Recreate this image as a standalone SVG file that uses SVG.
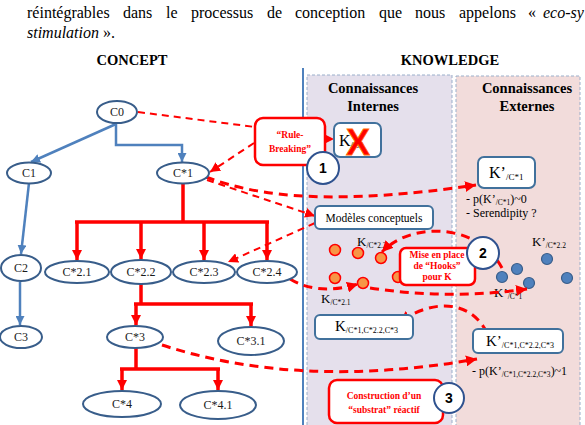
<svg xmlns="http://www.w3.org/2000/svg" width="585" height="425" viewBox="0 0 585 425" font-family="Liberation Serif, Tinos, DejaVu Serif, serif">
<style>
.t{font-family:'Liberation Serif','DejaVu Serif',serif;fill:#000}
.n{font-family:'Liberation Serif','DejaVu Serif',serif;font-size:12px;fill:#1a1a1a;text-anchor:middle}
.h{font-family:'Liberation Serif','DejaVu Serif',serif;font-size:14.5px;font-weight:bold;text-anchor:middle}
.r{font-family:'Liberation Serif','DejaVu Serif',serif;font-size:9.5px;font-weight:bold;fill:#FF0000;text-anchor:middle}
.num{font-family:'Liberation Sans','DejaVu Sans',sans-serif;font-size:14px;font-weight:bold;text-anchor:middle}
.el{fill:#fff;stroke:#385D8A;stroke-width:2}
.kb{fill:#fff;stroke:#41719C;stroke-width:2}
.rb{fill:#fff;stroke:#FF0000;stroke-width:2.5}
.circ{fill:#fff;stroke:#2F528F;stroke-width:2}
.blue{fill:none;stroke:#4F81BD;stroke-width:2.5}
.tree{fill:none;stroke:#FF0000;stroke-width:3.5}
.d1{fill:none;stroke:#FF0000;stroke-width:2;stroke-dasharray:7 5}
.d2{fill:none;stroke:#FF0000;stroke-width:3;stroke-dasharray:9 6}
.od{fill:#F79646;stroke:#FF0000;stroke-width:1.5}
.bd{fill:#4F81BD;stroke:#385D8A;stroke-width:1.2}
</style>
<defs>
<marker id="ab" viewBox="0 0 10 10" refX="10" refY="5" markerWidth="9" markerHeight="9" markerUnits="userSpaceOnUse" orient="auto"><path d="M0,0 L10,5 L0,10 z" fill="#4F81BD"/></marker>
<marker id="ar" viewBox="0 0 10 10" refX="10" refY="5" markerWidth="10" markerHeight="10" markerUnits="userSpaceOnUse" orient="auto"><path d="M0,0 L10,5 L0,10 z" fill="#FF0000"/></marker>
<marker id="ad" viewBox="0 0 10 10" refX="10" refY="5" markerWidth="11" markerHeight="11" markerUnits="userSpaceOnUse" orient="auto"><path d="M0,0 L10,5 L0,10 z" fill="#FF0000"/></marker>
</defs>
<rect width="585" height="425" fill="#fff"/>

<!-- paragraph -->
<g class="t" font-size="16">
<text x="27" y="18">réintégrables</text>
<text x="123" y="18">dans</text>
<text x="166" y="18">le</text>
<text x="191" y="18">processus</text>
<text x="267" y="18">de</text>
<text x="295" y="18">conception</text>
<text x="379" y="18">que</text>
<text x="415" y="18">nous</text>
<text x="459" y="18">appelons</text>
<text x="528" y="18">«</text>
<text x="543" y="18" font-style="italic">eco-sy</text>
<text x="27" y="38"><tspan font-style="italic">stimulation</tspan> ».</text>
</g>
<text class="h" x="132" y="65">CONCEPT</text>
<text class="h" x="450" y="65">KNOWLEDGE</text>

<!-- panels -->
<g id="panels">
<rect x="307" y="75" width="145" height="355" fill="#E5E0EC" stroke="#9AAFCB" stroke-width="1" stroke-dasharray="3 2"/>
<rect x="456" y="76" width="124" height="354" fill="#F2DCDB" stroke="#9AAFCB" stroke-width="1" stroke-dasharray="3 2"/>
<line x1="303" y1="68" x2="303" y2="425" stroke="#4F81BD" stroke-width="2"/>
<text class="h" x="373" y="93">Connaissances</text>
<text class="h" x="373" y="111">Internes</text>
<text class="h" x="527" y="93">Connaissances</text>
<text class="h" x="527" y="111">Externes</text>
</g>

<!-- dots -->
<g id="dots">
<circle class="od" cx="335" cy="250" r="5.5"/>
<circle class="od" cx="358" cy="253" r="5.5"/>
<circle class="od" cx="381" cy="258" r="5.5"/>
<circle class="od" cx="335" cy="278" r="5.5"/>
<circle class="od" cx="363" cy="283" r="5.5"/>
<circle class="od" cx="398" cy="277" r="5.5"/>
<circle class="bd" cx="502" cy="277" r="5.5"/>
<circle class="bd" cx="517" cy="269" r="5.5"/>
<circle class="bd" cx="529" cy="283" r="5.5"/>
<circle class="bd" cx="547" cy="259" r="5.5"/>
<circle class="bd" cx="567" cy="278" r="5.5"/>
<text class="t" x="357" y="246" font-size="13">K<tspan font-size="7.5" dy="2">/C*2.2</tspan></text>
<text class="t" x="321" y="303" font-size="13">K<tspan font-size="7.5" dy="2">/C*2.1</tspan></text>
<text class="t" x="532" y="246" font-size="13">K’<tspan font-size="7.5" dy="2">/C*2.2</tspan></text>
<text class="t" x="494" y="297" font-size="13">K’<tspan font-size="7.5" dy="2">/C*1</tspan></text>
</g>

<!-- connectors -->
<g id="connectors">
<path class="blue" d="M116,124 L31,162" marker-end="url(#ab)"/>
<path class="blue" d="M116,124 V145 H182 V162" marker-end="url(#ab)"/>
<path class="blue" d="M29,183 L21,254" marker-end="url(#ab)"/>
<path class="blue" d="M20,282 L20,325" marker-end="url(#ab)"/>

<path class="tree" d="M183,183 V222 M75,222 H269"/>
<path class="tree" d="M77,222 V260" marker-end="url(#ar)"/>
<path class="tree" d="M141,222 V259" marker-end="url(#ar)"/>
<path class="tree" d="M204,222 V260" marker-end="url(#ar)"/>
<path class="tree" d="M267,222 V260" marker-end="url(#ar)"/>
<path class="tree" d="M141,284 V304 M134,304 H253"/>
<path class="tree" d="M136,304 V325" marker-end="url(#ar)"/>
<path class="tree" d="M251,304 V326" marker-end="url(#ar)"/>
<path class="tree" d="M136,348 V369 M120,369 H220"/>
<path class="tree" d="M122,369 V390" marker-end="url(#ar)"/>
<path class="tree" d="M218,369 V390" marker-end="url(#ar)"/>

<path class="d1" d="M138,112 L255,127"/>
<path class="d1" d="M254,143 L210,172" marker-end="url(#ar)"/>
<path class="d1" d="M325,139 L334,139" marker-end="url(#ar)"/>
<path class="d2" d="M206,177 C260,198 340,205 476,185" marker-end="url(#ad)"/>
<path class="d1" d="M207,180 L315,216" marker-end="url(#ar)"/>
<path class="d1" d="M315,223 L228,262" marker-end="url(#ar)"/>
<path class="d2" d="M290,279 Q318,296 358,284" marker-end="url(#ad)"/>
<path class="d2" d="M370,288 Q450,300 527,289" marker-end="url(#ad)"/>
<path class="d2" d="M502,268 C478,222 410,222 382,252" marker-end="url(#ad)"/>
<path class="d2" d="M487,333 C470,298 430,300 400,322" marker-end="url(#ad)"/>
<path class="d2" d="M162,345 Q300,390 477,359" marker-end="url(#ad)"/>
</g>

<!-- concept nodes -->
<g id="C0"><ellipse class="el" cx="117" cy="112" rx="20" ry="11"/><text class="n" x="117" y="116">C0</text></g>
<g id="C1"><ellipse class="el" cx="29" cy="173" rx="22" ry="10.5"/><text class="n" x="29" y="177">C1</text></g>
<g id="Cs1"><ellipse class="el" cx="183" cy="173" rx="26" ry="10.5"/><text class="n" x="183" y="177">C*1</text></g>
<g id="C2"><ellipse class="el" cx="21" cy="268" rx="20" ry="13"/><text class="n" x="21" y="272">C2</text></g>
<g id="Cs21"><ellipse class="el" cx="77" cy="272" rx="32" ry="11"/><text class="n" x="77" y="276">C*2.1</text></g>
<g id="Cs22"><ellipse class="el" cx="141" cy="272" rx="30" ry="12"/><text class="n" x="141" y="276">C*2.2</text></g>
<g id="Cs23"><ellipse class="el" cx="204" cy="272" rx="31" ry="11"/><text class="n" x="204" y="276">C*2.3</text></g>
<g id="Cs24"><ellipse class="el" cx="267" cy="272" rx="30" ry="11"/><text class="n" x="267" y="276">C*2.4</text></g>
<g id="C3"><ellipse class="el" cx="21" cy="337" rx="21" ry="11"/><text class="n" x="21" y="341">C3</text></g>
<g id="Cs3"><ellipse class="el" cx="135" cy="337" rx="28" ry="11"/><text class="n" x="135" y="341">C*3</text></g>
<g id="Cs31"><ellipse class="el" cx="251" cy="341" rx="33" ry="14"/><text class="n" x="251" y="345">C*3.1</text></g>
<g id="Cs4"><ellipse class="el" cx="122" cy="404" rx="39" ry="13"/><text class="n" x="122" y="408">C*4</text></g>
<g id="Cs41"><ellipse class="el" cx="218" cy="405" rx="38" ry="14"/><text class="n" x="218" y="409">C*4.1</text></g>

<!-- knowledge boxes -->
<g id="KC0"><rect class="kb" x="334" y="123" width="47" height="34" rx="6"/><text class="t" x="339" y="146" font-size="16">K<tspan font-size="9" dy="2">/C0</tspan></text>
<text x="358" y="155" font-family="'Liberation Sans','DejaVu Sans',sans-serif" font-size="36" font-weight="bold" fill="#FF0000" stroke="#FF6A00" stroke-width="0.8" text-anchor="middle">X</text></g>
<g id="Kp1"><rect class="kb" x="478" y="157" width="57" height="31" rx="6"/><text class="t" x="489" y="178" font-size="16">K’<tspan font-size="9" dy="2">/C*1</tspan></text></g>
<text class="t" x="466" y="203" font-size="12">- p(K’<tspan font-size="7.5" dy="2">/C*1</tspan><tspan dy="-2">)~0</tspan></text>
<text class="t" x="466" y="217" font-size="12">- Serendipity ?</text>
<g id="Modeles"><rect class="kb" x="315" y="206" width="118" height="23" rx="5"/><text class="t" x="374" y="222" font-size="11.5" text-anchor="middle">Modèles conceptuels</text></g>
<g id="KC123"><rect class="kb" x="315" y="315" width="98" height="24" rx="5"/><text class="t" x="335" y="331" font-size="15">K<tspan font-size="8" dy="2">/C*1,C*2.2,C*3</tspan></text></g>
<g id="Kp123"><rect class="kb" x="473" y="329" width="90" height="24" rx="5"/><text class="t" x="486" y="346" font-size="15">K’<tspan font-size="8" dy="2">/C*1,C*2.2,C*3</tspan></text></g>
<text class="t" x="472" y="375" font-size="12">- p(K’<tspan font-size="7.5" dy="2">/C*1,C*2.2,C*3</tspan><tspan dy="-2">)~1</tspan></text>

<!-- red boxes -->
<g id="RuleBreaking"><rect class="rb" x="255" y="118" width="70" height="47" rx="8"/><text class="r" x="290" y="138">“Rule-</text><text class="r" x="290" y="152">Breaking”</text></g>
<g id="Hooks"><rect class="rb" x="400" y="248" width="75" height="37" rx="6"/><text class="r" x="437" y="258">Mise en place</text><text class="r" x="437" y="269">de “Hooks”</text><text class="r" x="437" y="280">pour K</text></g>
<g id="Substrat"><rect class="rb" x="329" y="380" width="114" height="43" rx="8"/><text class="r" x="384" y="399">Construction d’un</text><text class="r" x="384" y="413">“substrat” réactif</text></g>

<!-- numbered circles -->
<g id="n1"><circle class="circ" cx="323" cy="168" r="16"/><text class="num" x="323" y="173">1</text></g>
<g id="n2"><circle class="circ" cx="483" cy="253" r="16"/><text class="num" x="483" y="258">2</text></g>
<g id="n3"><circle class="circ" cx="449" cy="398" r="15"/><text class="num" x="449" y="403">3</text></g>
</svg>
